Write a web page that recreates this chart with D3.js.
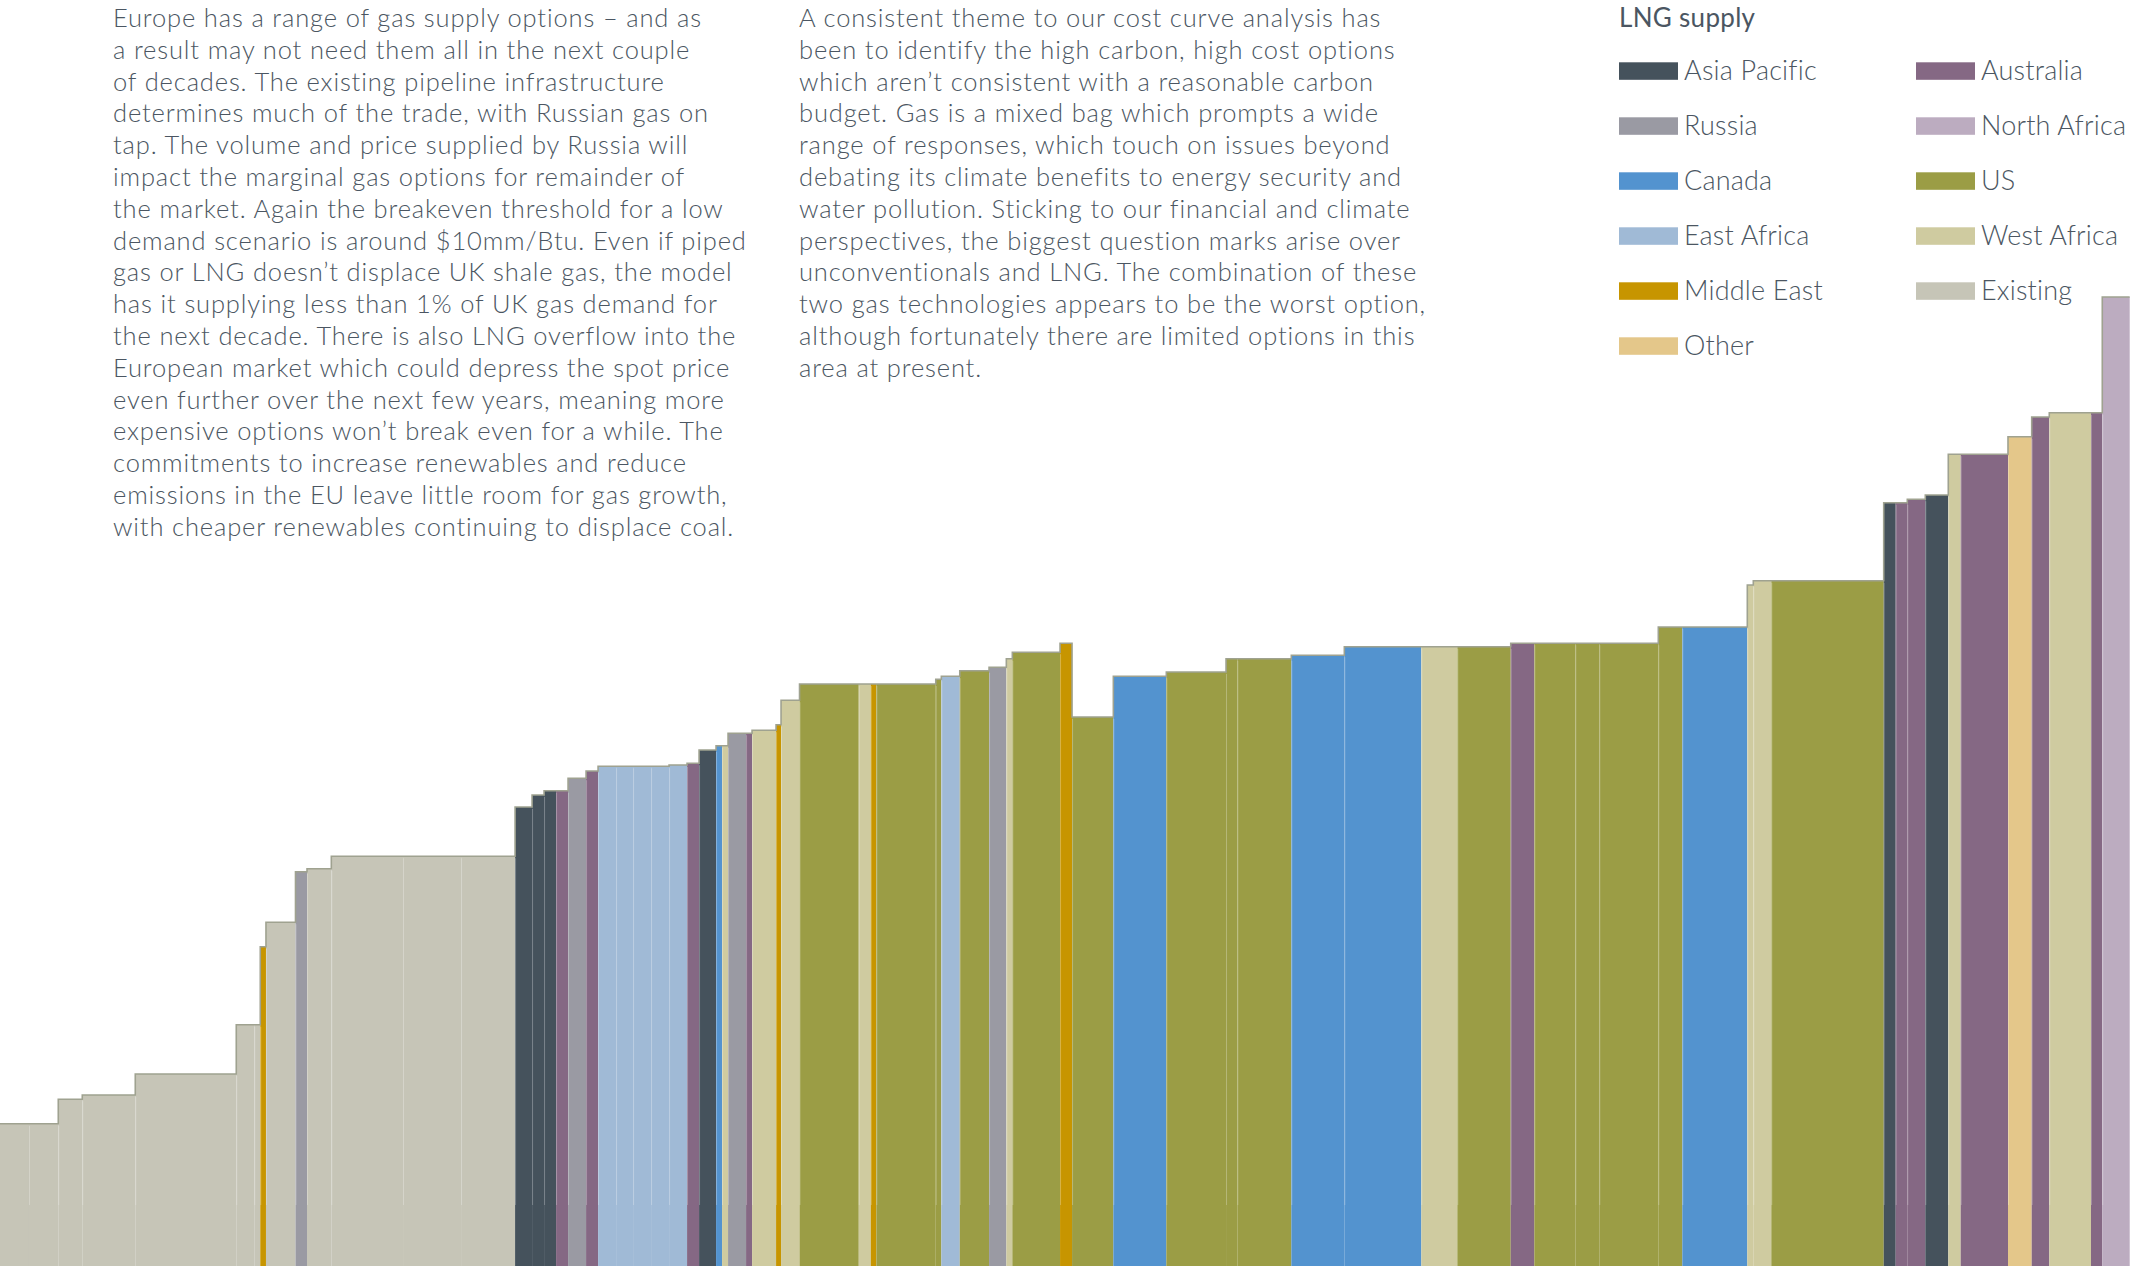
<!DOCTYPE html>
<html>
<head>
<meta charset="utf-8">
<script src="https://cdn.jsdelivr.net/npm/d3@7"></script>
<style>
  html, body { margin: 0; padding: 0; background: #ffffff; }
  svg { display: block; }
</style>
</head>
<body>
<svg id="chart" width="2149" height="1266"></svg>
<script>
// ---- Supply categories (legend order: left column, then right column) ----
const categories = [
  "Asia Pacific", "Russia", "Canada", "East Africa", "Middle East", "Other",
  "Australia", "North Africa", "US", "West Africa", "Existing"
];
const categoryColors = [
  "#45525c", "#9a9aa3", "#5393cf", "#a0bad6", "#c79500", "#e4c78a",
  "#856884", "#bcacc0", "#9b9d45", "#cfcba0", "#c6c5b7"
];

// ---- Cost curve: one entry per supply project, sorted as plotted ----
const supplyRegion = [
  "Existing", "Existing", "Existing", "Existing", "Existing", "Existing", "Existing",
  "Middle East", "Existing", "Russia", "Existing", "Existing", "Existing", "Existing",
  "Asia Pacific", "Asia Pacific", "Asia Pacific", "Australia", "Russia", "Australia",
  "East Africa", "East Africa", "East Africa", "East Africa", "East Africa",
  "Australia", "Asia Pacific", "Canada", "West Africa", "Russia", "Australia",
  "West Africa", "Middle East", "West Africa", "US", "West Africa", "Middle East",
  "US", "US", "East Africa", "US", "Russia", "West Africa", "US", "Middle East",
  "US", "Canada", "US", "US", "US", "Canada", "Canada", "West Africa", "US",
  "Australia", "US", "US", "US", "US", "Canada", "West Africa", "West Africa",
  "US", "Asia Pacific", "Australia", "Australia", "Asia Pacific", "West Africa",
  "Australia", "Other", "Australia", "West Africa", "Australia", "North Africa"
];

// Supply volume of each project (bcm/yr)
const supplyVolume = [
  4.83, 4.88, 4.00, 8.83, 16.83, 3.00, 1.00,
  0.95, 4.92, 1.92, 4.05, 11.95, 9.67, 9.00,
  2.83, 2.00, 2.00, 2.00, 3.00, 2.00,
  3.00, 2.83, 3.00, 3.00, 3.00,
  2.00, 2.83, 1.00, 1.00, 3.00, 1.00,
  4.00, 0.83, 3.08, 9.87, 2.00, 0.93,
  9.90, 0.93, 3.07, 4.88, 2.88, 1.00, 7.95, 2.00,
  6.88, 8.83, 9.95, 1.88, 9.00, 8.83, 12.83, 6.00, 8.90,
  3.93, 6.83, 4.00, 9.83, 4.00, 10.83, 1.00, 3.00,
  18.73, 2.00, 1.93, 3.00, 3.83, 2.07,
  7.88, 3.95, 2.93, 6.95, 1.88, 4.57
];

// Breakeven cost of each project ($/MMBtu)
const breakevenCost = [
  2.37, 2.37, 2.78, 2.85, 3.20, 4.02, 4.02,
  5.32, 5.73, 6.57, 6.62, 6.83, 6.83, 6.83,
  7.65, 7.85, 7.92, 7.92, 8.13, 8.25,
  8.33, 8.33, 8.33, 8.33, 8.35,
  8.38, 8.60, 8.67, 8.67, 8.88, 8.88,
  8.93, 9.02, 9.43, 9.70, 9.70, 9.70,
  9.70, 9.78, 9.83, 9.92, 9.98, 10.12, 10.23, 10.38,
  9.15, 9.83, 9.90, 10.12, 10.12, 10.18, 10.32, 10.32, 10.32,
  10.38, 10.38, 10.38, 10.38, 10.65, 10.65, 11.35, 11.42,
  11.42, 12.72, 12.72, 12.78, 12.85, 13.53,
  13.53, 13.82, 14.15, 14.22, 14.22, 16.15
];

// ---- Commentary text ----
const introLines = [
  "Europe has a range of gas supply options \u2013 and as",
  "a result may not need them all in the next couple",
  "of decades. The existing pipeline infrastructure",
  "determines much of the trade, with Russian gas on",
  "tap. The volume and price supplied by Russia will",
  "impact the marginal gas options for remainder of",
  "the market. Again the breakeven threshold for a low",
  "demand scenario is around $10mm/Btu. Even if piped",
  "gas or LNG doesn\u2019t displace UK shale gas, the model",
  "has it supplying less than 1% of UK gas demand for",
  "the next decade. There is also LNG overflow into the",
  "European market which could depress the spot price",
  "even further over the next few years, meaning more",
  "expensive options won\u2019t break even for a while. The",
  "commitments to increase renewables and reduce",
  "emissions in the EU leave little room for gas growth,",
  "with cheaper renewables continuing to displace coal."
];
const themeLines = [
  "A consistent theme to our cost curve analysis has",
  "been to identify the high carbon, high cost options",
  "which aren\u2019t consistent with a reasonable carbon",
  "budget. Gas is a mixed bag which prompts a wide",
  "range of responses, which touch on issues beyond",
  "debating its climate benefits to energy security and",
  "water pollution. Sticking to our financial and climate",
  "perspectives, the biggest question marks arise over",
  "unconventionals and LNG. The combination of these",
  "two gas technologies appears to be the worst option,",
  "although fortunately there are limited options in this",
  "area at present."
];
const legendTitle = "LNG supply";

// ---- Drawing ----
const W = 2149, H = 1266;
const svg = d3.select("#chart");
svg.append("rect").attr("width", W).attr("height", H).attr("fill", "#ffffff");

const textColor = "#4b5662";
const fontFamily = "Lato, 'Noto Sans', sans-serif";

const color = d3.scaleOrdinal().domain(categories).range(categoryColors);

// cumulative volume gives each project's left edge
const starts = [];
let acc = 0;
supplyVolume.forEach(v => { starts.push(acc); acc += v; });
const totalVolume = acc;

const plot = { left: 0, right: 2129.7, bottom: 1266, top: 297 };
const x = d3.scaleLinear().domain([0, totalVolume]).range([plot.left, plot.right]);
const y = d3.scaleLinear().domain([0, d3.max(breakevenCost)]).range([plot.bottom, plot.top]);

const projects = supplyRegion.map((r, i) => ({
  region: r, start: starts[i], end: starts[i] + supplyVolume[i], cost: breakevenCost[i]
}));

const chart = svg.append("g").attr("class", "cost-curve");

chart.selectAll("rect.bar")
  .data(projects)
  .join("rect")
  .attr("class", "bar")
  .attr("x", d => x(d.start))
  .attr("y", d => y(d.cost))
  .attr("width", d => x(d.end) - x(d.start))
  .attr("height", d => y(0) - y(d.cost))
  .attr("fill", d => color(d.region));

// faint separators between neighbouring projects
const dividerFoot = y(0) - 61;
chart.selectAll("line.divider")
  .data(projects.slice(1).map((d, i) => ({ d, prev: projects[i] })))
  .join("line")
  .attr("class", "divider")
  .attr("x1", p => x(p.d.start) + 0.5)
  .attr("x2", p => x(p.d.start) + 0.5)
  .attr("y1", p => y(Math.min(p.d.cost, p.prev.cost)) + 2)
  .attr("y2", dividerFoot)
  .attr("stroke", "rgba(255,255,255,0.25)")
  .attr("stroke-width", 1);

// stepped outline along the top of the curve
const outline = d3.path();
projects.forEach((d, i) => {
  if (i === 0) outline.moveTo(x(d.start), y(d.cost));
  else outline.lineTo(x(d.start), y(d.cost));
  outline.lineTo(x(d.end), y(d.cost));
});
chart.append("path")
  .attr("d", outline.toString())
  .attr("fill", "none")
  .attr("stroke", "#9fa290")
  .attr("stroke-width", 1.6);

// ---- Commentary paragraphs ----
function paragraph(lines, x0, y0) {
  svg.append("g")
    .selectAll("text")
    .data(lines)
    .join("text")
    .attr("x", x0)
    .attr("y", (d, i) => y0 + i * 31.8)
    .attr("fill", textColor)
    .attr("font-family", fontFamily)
    .attr("font-weight", 300)
    .attr("font-size", 25.5)
    .attr("letter-spacing", 0.85)
    .text(d => d);
}
paragraph(introLines, 113, 27);
paragraph(themeLines, 799, 27);

// ---- Legend ----
const legend = svg.append("g").attr("class", "legend");
legend.append("text")
  .attr("x", 1619).attr("y", 27)
  .attr("fill", textColor)
  .attr("font-family", fontFamily)
  .attr("font-weight", 400)
  .attr("font-size", 26)
  .attr("letter-spacing", 0.3)
  .text(legendTitle);

const legendCols = [categories.slice(0, 6), categories.slice(6)];
const colX = [1619, 1916];
legendCols.forEach((col, ci) => {
  const g = legend.append("g");
  const item = g.selectAll("g")
    .data(col)
    .join("g")
    .attr("transform", (d, i) => `translate(${colX[ci]},${62.3 + i * 55})`);
  item.append("rect")
    .attr("width", 59).attr("height", 17.5)
    .attr("fill", d => color(d));
  item.append("text")
    .attr("x", 65).attr("y", 17.3)
    .attr("fill", textColor)
    .attr("font-family", fontFamily)
    .attr("font-weight", 300)
    .attr("font-size", 27)
    .attr("letter-spacing", 0.2)
    .text(d => d);
});
</script>
</body>
</html>
